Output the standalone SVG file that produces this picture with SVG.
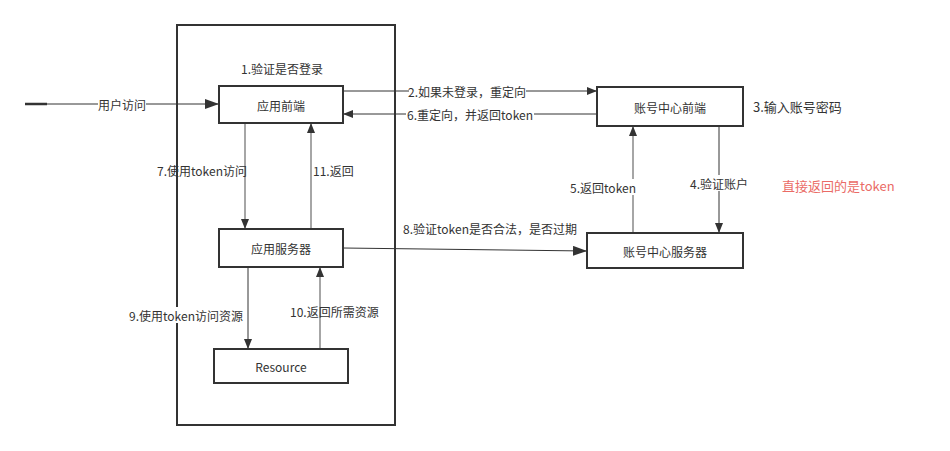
<svg xmlns="http://www.w3.org/2000/svg" width="950" height="451" viewBox="0 0 950 451">
<defs>
<marker id="ah" viewBox="0 0 10 8" refX="10" refY="4" markerWidth="10" markerHeight="8" markerUnits="userSpaceOnUse" orient="auto">
<path d="M0,0 L10,4 L0,8 Z" fill="#333"/>
</marker>
<marker id="ahb" viewBox="0 0 14 10" refX="14" refY="5" markerWidth="14" markerHeight="10" markerUnits="userSpaceOnUse" orient="auto">
<path d="M0,0 L14,5 L0,10 Z" fill="#333"/>
</marker>
</defs>
<style>
.box{fill:#fff;stroke:#333;stroke-width:2}
.t{font-family:"Noto Sans CJK SC","Microsoft YaHei",sans-serif;font-size:12px;fill:#333;dominant-baseline:central}
.t13{font-size:13px}
.red{fill:#EA6B66}
.c{stroke:#333;stroke-width:1;fill:none}
.g{stroke:#888;stroke-width:1.5;fill:none}
.bg{fill:#fff}
</style>
<rect width="950" height="451" fill="#fff"/>
<g id="container"><rect x="177" y="25" width="218" height="400" fill="none" stroke="#333" stroke-width="2"/></g>
<g id="connectors">
<line x1="25" y1="104" x2="47" y2="104" stroke="#333" stroke-width="2.5"/>
<line class="c" x1="47" y1="104" x2="219" y2="104" stroke-width="2" marker-end="url(#ahb)"/>
<line class="c" x1="343" y1="91" x2="597" y2="91" marker-end="url(#ah)"/>
<line class="c" x1="597" y1="114" x2="343" y2="114" marker-end="url(#ah)"/>
<line class="g" x1="633" y1="233" x2="633" y2="126" marker-end="url(#ah)"/>
<line class="c" x1="719" y1="126" x2="719" y2="233" marker-end="url(#ah)"/>
<line class="g" x1="245" y1="123" x2="245" y2="229" marker-end="url(#ah)"/>
<line class="g" x1="311" y1="229" x2="311" y2="123" marker-end="url(#ah)"/>
<path class="c" d="M343,248 L587,251" stroke-width="2" marker-end="url(#ahb)"/>
<line class="c" x1="248" y1="267" x2="248" y2="349" marker-end="url(#ah)"/>
<line class="g" x1="320" y1="349" x2="320" y2="267" marker-end="url(#ah)"/>
</g>
<g id="labels">
<rect class="bg" x="98" y="96" width="48" height="16"/>
<text class="t" x="122" y="104" text-anchor="middle">用户访问</text>
<text class="t" x="282" y="68" text-anchor="middle">1.验证是否登录</text>
<rect class="bg" x="409" y="83" width="117" height="16"/>
<text class="t" x="467" y="91" text-anchor="middle">2.如果未登录，重定向</text>
<rect class="bg" x="406" y="106" width="128" height="16"/>
<text class="t" x="470" y="114" text-anchor="middle">6.重定向，并返回token</text>
<text class="t t13" x="753" y="106">3.输入账号密码</text>
<rect class="bg" x="571" y="179" width="64" height="16"/>
<text class="t" x="603" y="187" text-anchor="middle">5.返回token</text>
<rect class="bg" x="689" y="175" width="60" height="16"/>
<text class="t" x="719" y="183" text-anchor="middle">4.验证账户</text>
<text class="t t13 red" x="782" y="185">直接返回的是token</text>
<text class="t" x="157" y="170">7.使用token访问</text>
<text class="t" x="313" y="170">11.返回</text>
<text class="t" x="403" y="228">8.验证token是否合法，是否过期</text>
<rect class="bg" x="128" y="307" width="117" height="16"/>
<text class="t" x="129" y="315">9.使用token访问资源</text>
<text class="t" x="290" y="311">10.返回所需资源</text>
</g>
<g id="n-app-front"><rect class="box" x="219" y="86" width="124" height="37"/><text class="t" x="281" y="105" text-anchor="middle">应用前端</text></g>
<g id="n-acct-front"><rect class="box" x="597" y="87" width="146" height="39"/><text class="t" x="670" y="107" text-anchor="middle">账号中心前端</text></g>
<g id="n-app-server"><rect class="box" x="219" y="229" width="124" height="38"/><text class="t" x="281" y="248" text-anchor="middle">应用服务器</text></g>
<g id="n-acct-server"><rect class="box" x="587" y="233" width="156" height="35"/><text class="t" x="665" y="251" text-anchor="middle">账号中心服务器</text></g>
<g id="n-resource"><rect class="box" x="214" y="349" width="134" height="34"/><text class="t" x="281" y="366" text-anchor="middle">Resource</text></g>
</svg>
